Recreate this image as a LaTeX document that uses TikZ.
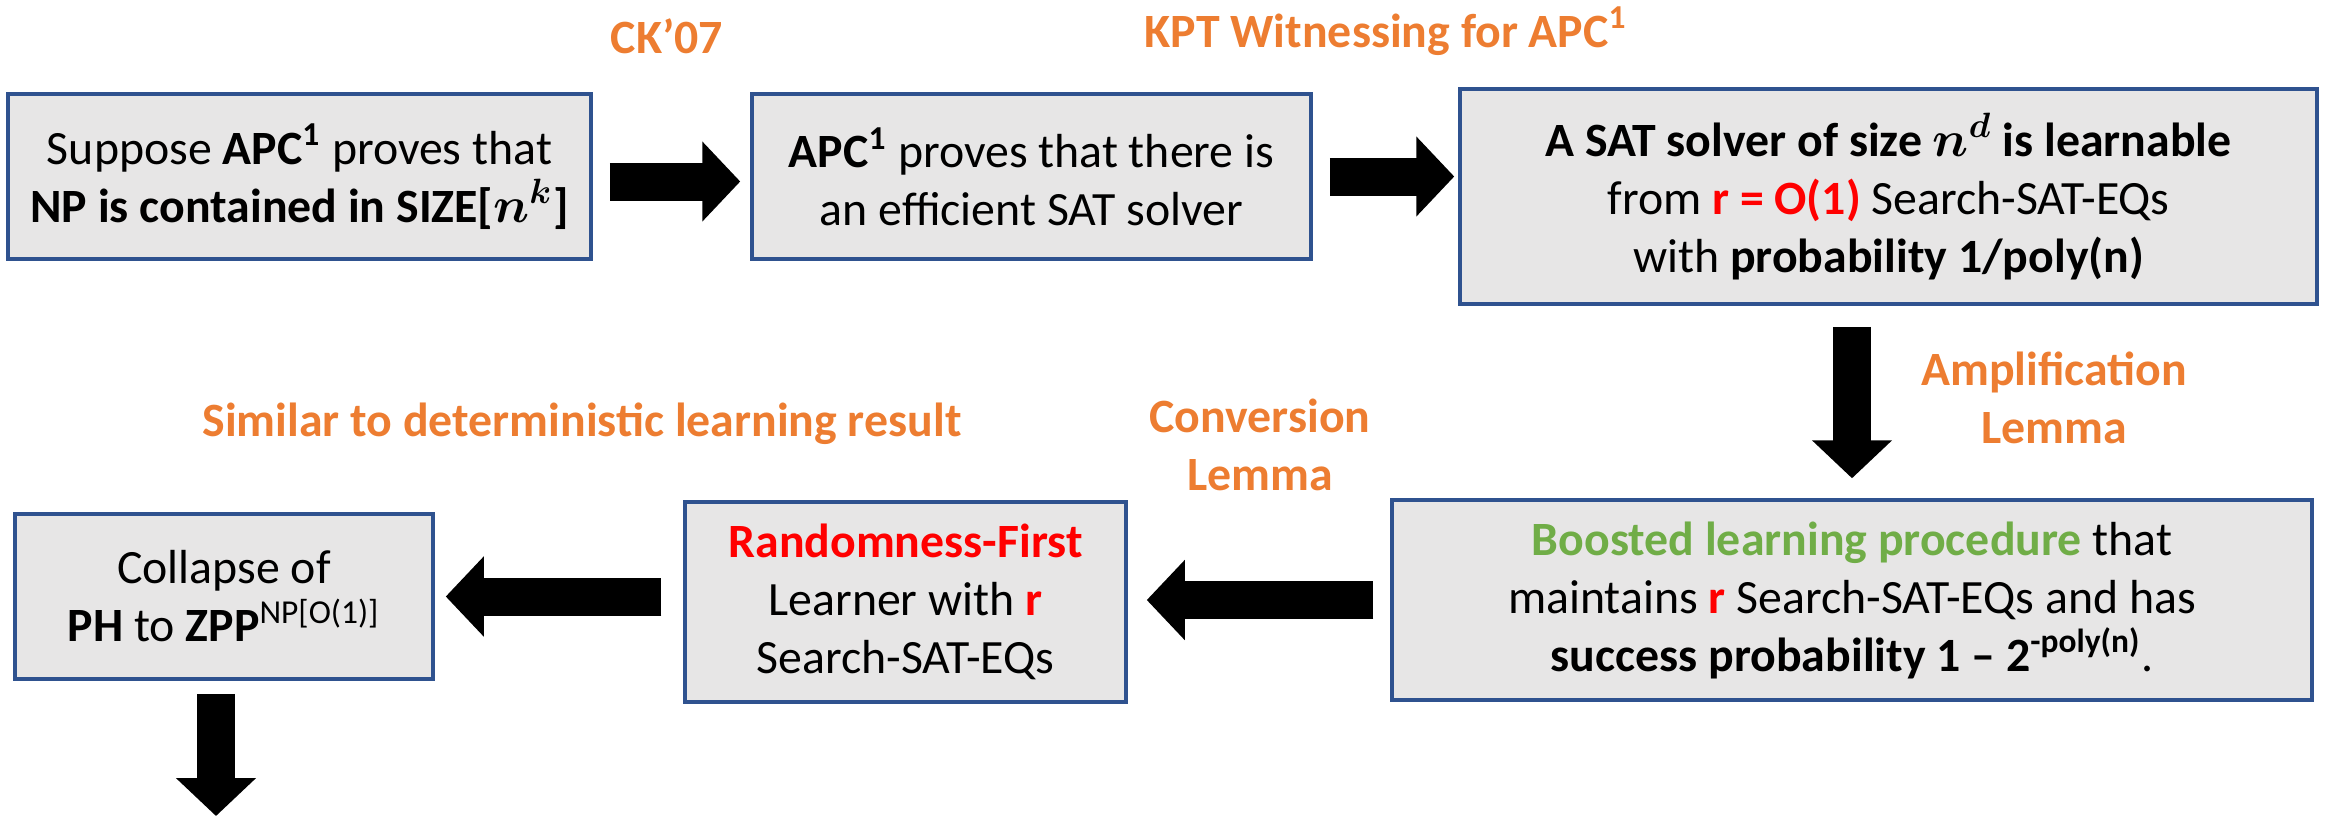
\documentclass[tikz,border=0pt]{standalone}
\usepackage{fontspec}
\setmainfont{Carlito}
\usepackage{xcolor}
\usetikzlibrary{arrows.meta, positioning}

\definecolor{boxfill}{RGB}{231,230,230}
\definecolor{boxline}{RGB}{47,82,143}
\definecolor{lemmaorange}{RGB}{237,125,49}
\definecolor{boostgreen}{RGB}{112,173,71}

\begin{document}
\begin{tikzpicture}[font=\fontsize{13.6}{16.5}\selectfont]
    \tikzstyle{block} = [rectangle, align=center, text centered, draw=boxline, line width=1pt, fill=boxfill, inner sep=2pt]
    \tikzstyle{lemma} = [align=center, text=lemmaorange, font=\fontsize{13.6}{16.5}\selectfont\bfseries]
    \tikzstyle{bigarrow} = [line width=0.38cm, -{Triangle[length=0.38cm, width=0.78cm]}, shorten <=0.17cm, shorten >=0.1cm]

    \useasboundingbox (0,0) rectangle (23.25,-8.16);

    \node (hyp) [block, minimum width=5.83cm, minimum height=1.65cm] at (2.995,-1.765) {Suppose \textbf{APC\textsuperscript{1}} proves that\\ \textbf{NP is contained in SIZE[}{\boldmath$n^{k}$}\textbf{]}};
    \node (solver) [block, minimum width=5.59cm, minimum height=1.65cm] at (10.315,-1.765) {\textbf{APC\textsuperscript{1}} proves that there is\\ an efficient SAT solver};
    \node (learn) [block, minimum width=8.57cm, minimum height=2.15cm] at (18.885,-1.965) {\textbf{A SAT solver of size} {\boldmath$n^{d}$} \textbf{is learnable}\\ from \textcolor{red}{\textbf{r = O(1)}} Search-SAT-EQs\\ with \textbf{probability 1/poly(n)}};
    \node (boost) [block, minimum width=9.20cm, minimum height=2.00cm] at (18.52,-6.00) {\textcolor{boostgreen}{\textbf{Boosted learning procedure}} that\\ maintains \textcolor{red}{\textbf{r}} Search-SAT-EQs and has\\ \textbf{success probability 1 -- 2\textsuperscript{-poly(n)}}.};
    \node (rfirst) [block, minimum width=4.41cm, minimum height=2.00cm] at (9.055,-6.02) {\textcolor{red}{\textbf{Randomness-First}}\\ Learner with \textcolor{red}{\textbf{r}}\\ Search-SAT-EQs};
    \node (collapse) [block, minimum width=4.18cm, minimum height=1.65cm] at (2.24,-5.965) {Collapse of\\ \textbf{PH} to \textbf{ZPP}\textsuperscript{NP[O(1)]}};
    \coordinate (exit) at (2.16,-8.16);

    \node (ck) [lemma] at (6.67,-0.36) {CK'07};
    \node (kpt) [lemma] at (13.86,-0.31) {KPT Witnessing for APC\textsuperscript{1}};
    \node (amp) [lemma] at (20.54,-3.98) {Amplification\\ Lemma};
    \node (conv) [lemma] at (12.60,-4.45) {Conversion\\ Lemma};
    \node (sim) [lemma] at (5.82,-4.24) {Similar to deterministic learning result};

    \draw [bigarrow] ([yshift=-0.05cm]hyp.east) -- ([yshift=-0.05cm]solver.west);
    \draw [bigarrow, shorten >=0.04cm] (solver.east) -- (solver.east -| learn.west);
    \draw [bigarrow, shorten <=0.21cm, shorten >=0.2cm] (boost.north |- learn.south) -- (boost.north);
    \draw [bigarrow, shorten >=0.19cm] (boost.west) -- (boost.west -| rfirst.east);
    \draw [bigarrow, shorten <=0.22cm, shorten >=0.11cm] (collapse.east -| rfirst.west) -- (collapse.east);
    \draw [bigarrow, shorten <=0.13cm, shorten >=0cm] (exit |- collapse.south) -- (exit);
\end{tikzpicture}
\end{document}
